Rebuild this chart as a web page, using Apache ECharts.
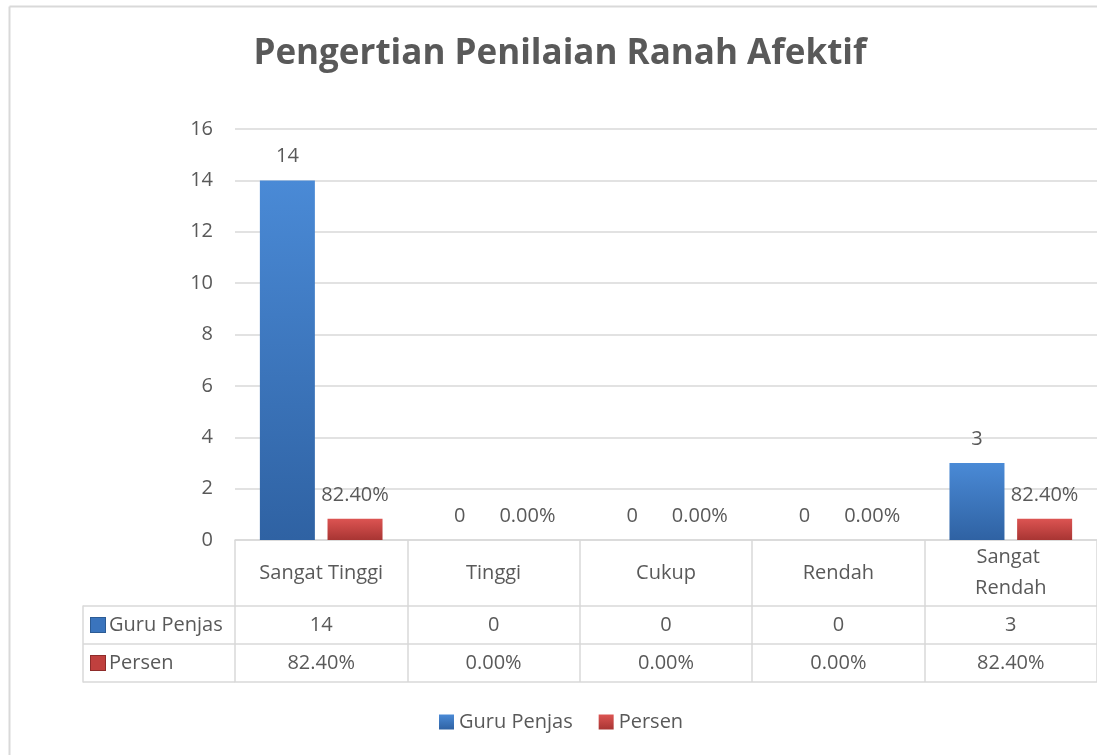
<!DOCTYPE html>
<html>
<head>
<meta charset="utf-8">
<script src="https://cdn.jsdelivr.net/npm/echarts@6/dist/echarts.min.js"></script>
<style>
  html, body { margin: 0; padding: 0; background: #fff; overflow: hidden; }
  #chart { width: 1097px; height: 755px; }
</style>
</head>
<body>
<div id="chart"></div>
<script>
// chart data
const title = 'Pengertian Penilaian Ranah Afektif';
const categories = ['Sangat Tinggi', 'Tinggi', 'Cukup', 'Rendah', 'Sangat Rendah'];
const seriesNames = ['Guru Penjas', 'Persen'];
const guruPenjas = [14, 0, 0, 0, 3];
const persen = [0.824, 0, 0, 0, 0.824];
const yTicks = [0, 2, 4, 6, 8, 10, 12, 14, 16];

const textColor = '#595959';
const lineColor = '#d9d9d9';
const font = 'Open Sans';

function pct(v) {
    return (v * 100).toFixed(2) + '%';
}

const blue = new echarts.graphic.LinearGradient(0, 0, 0, 1, [
    { offset: 0, color: '#4a8ad6' },
    { offset: 1, color: '#2f62a3' }
]);
const red = new echarts.graphic.LinearGradient(0, 0, 0, 1, [
    { offset: 0, color: '#dc5452' },
    { offset: 1, color: '#a83533' }
]);

let chart = echarts.init(document.getElementById('chart'), null, { renderer: 'canvas' });

// rows of the data table under the x axis
const rowAxis = (offset, values, fmt) => ({
    type: 'category',
    gridIndex: 0,
    position: 'bottom',
    offset: offset,
    data: categories,
    axisLine: { show: true, lineStyle: { color: lineColor, width: 1.5 } },
    axisTick: { show: false },
    axisLabel: {
        show: values != null,
        interval: 0,
        margin: 19,
        verticalAlign: 'middle',
        color: textColor,
        fontFamily: font,
        fontSize: 20,
        formatter: (v, i) => values ? fmt(values[i]) : ''
    }
});

let option = {
    animation: false,
    title: {
        text: title,
        left: 555,
        top: 32,
        textAlign: 'center',
        textStyle: { color: textColor, fontFamily: font, fontWeight: 'bold', fontSize: 35 }
    },
    legend: {
        data: seriesNames,
        left: 439,
        top: 712,
        padding: 0,
        itemWidth: 15,
        itemHeight: 15,
        itemGap: 26,
        icon: 'rect',
        textStyle: { color: textColor, fontFamily: font, fontSize: 20 }
    },
    grid: [
        { left: 235, width: 871, top: 129, height: 411, containLabel: false },
        { left: 83, top: 606, width: 152, height: 76 }
    ],
    xAxis: [
        {
            type: 'category',
            gridIndex: 0,
            data: categories,
            axisLine: { show: true, lineStyle: { color: lineColor, width: 1.5 } },
            axisTick: { show: true, interval: 0, length: 142, lineStyle: { color: lineColor, width: 1.5 } },
            axisLabel: {
                interval: 0,
                margin: 33,
                verticalAlign: 'middle',
                align: 'center',
                color: textColor,
                fontFamily: font,
                fontSize: 20,
                lineHeight: 31,
                width: 138,
                overflow: 'break'
            }
        },
        rowAxis(66, guruPenjas, v => String(v)),
        rowAxis(104, persen, pct),
        rowAxis(142, null, null),
        { type: 'value', gridIndex: 1, show: false }
    ],
    yAxis: [
        {
            type: 'value',
            gridIndex: 0,
            min: yTicks[0],
            max: yTicks[yTicks.length - 1],
            interval: yTicks[1] - yTicks[0],
            axisLine: { show: false },
            axisTick: { show: false },
            splitLine: { lineStyle: { color: lineColor, width: 1.5 } },
            axisLabel: { margin: 22, color: textColor, fontFamily: font, fontSize: 20 }
        },
        {
            type: 'category',
            gridIndex: 1,
            inverse: true,
            data: seriesNames,
            axisLine: { show: true, lineStyle: { color: lineColor, width: 1.5 } },
            axisTick: { show: false },
            splitLine: { show: true, interval: 0, lineStyle: { color: lineColor, width: 1.5 } },
            axisLabel: {
                inside: true,
                interval: 0,
                margin: 8,
                formatter: (v, i) => '{i' + i + '|}{t|' + v + '}',
                rich: {
                    i0: { width: 14, height: 14, backgroundColor: '#3a74bd', borderColor: '#2c5b94', borderWidth: 1 },
                    i1: { width: 14, height: 14, backgroundColor: '#c0403e', borderColor: '#8e2c2a', borderWidth: 1 },
                    t: { color: textColor, fontFamily: font, fontSize: 20, padding: [0, 0, 0, 4] }
                }
            }
        }
    ],
    series: [
        {
            name: seriesNames[0],
            type: 'bar',
            xAxisIndex: 0,
            yAxisIndex: 0,
            data: guruPenjas,
            barWidth: 55,
            barGap: '23%',
            itemStyle: { color: blue, borderWidth: 0 },
            label: {
                show: true,
                position: 'top',
                distance: 14,
                color: textColor,
                fontFamily: font,
                fontSize: 20
            }
        },
        {
            name: seriesNames[1],
            type: 'bar',
            xAxisIndex: 0,
            yAxisIndex: 0,
            data: persen,
            barWidth: 55,
            itemStyle: { color: red, borderWidth: 0 },
            label: {
                show: true,
                position: 'top',
                distance: 14,
                color: textColor,
                fontFamily: font,
                fontSize: 20,
                formatter: p => pct(p.value)
            }
        }
    ],
    graphic: [
        {
            type: 'line',
            silent: true,
            shape: { x1: 9.5, y1: 6.5, x2: 9.5, y2: 760 },
            style: { stroke: lineColor, lineWidth: 2 }
        },
        {
            type: 'line',
            silent: true,
            shape: { x1: 9.5, y1: 6.5, x2: 1100, y2: 6.5 },
            style: { stroke: lineColor, lineWidth: 2 }
        }
    ]
};

option && chart.setOption(option);
</script>
</body>
</html>
